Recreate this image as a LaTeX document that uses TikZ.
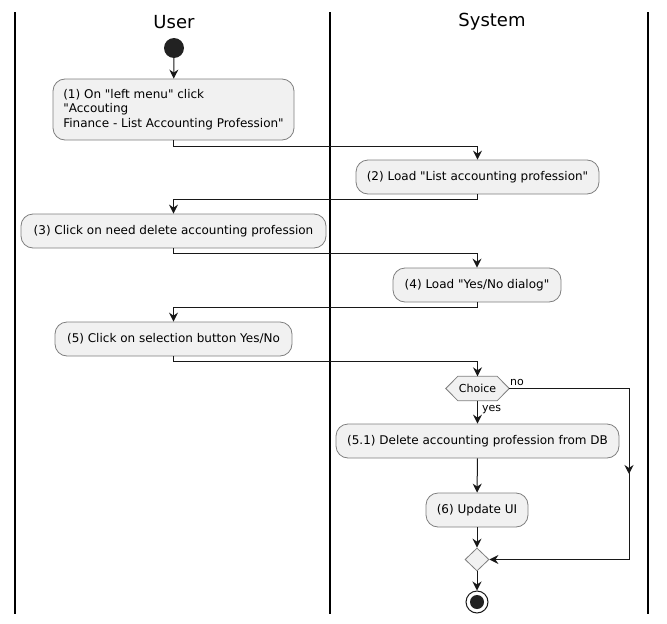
\documentclass[tikz,border=0pt]{standalone}
\usepackage{fontspec}
\setmainfont{DejaVu Sans}[Ligatures=TeXOff]
\usetikzlibrary{arrows.meta,shapes.geometric}
\definecolor{boxfill}{HTML}{F1F1F1}
\definecolor{boxline}{HTML}{7F7F7F}
\definecolor{ink}{HTML}{181818}
\definecolor{dot}{HTML}{222222}
\tikzset{
  act/.style={draw=boxline, fill=boxfill, rounded corners=12pt, line width=0.8pt,
    inner xsep=10pt, inner ysep=0pt, minimum height=34pt, font=\fontsize{12}{14.5}\selectfont, text=black},
  arr/.style={draw=ink, line width=1pt, -{Stealth[length=9pt,width=9pt,inset=3pt]}},
  lane/.style={draw=black, line width=1.5pt},
  title/.style={font=\fontsize{18}{20}\selectfont},
  lbl/.style={font=\fontsize{11}{12}\selectfont, inner sep=0pt},
}
\begin{document}
\begin{tikzpicture}[x=1pt,y=-1pt]
\useasboundingbox (0,0) rectangle (667,624);
% lanes
\draw[lane] (15,12) -- (15,614);
\draw[lane] (330,12) -- (330,614);
\draw[lane] (648,12) -- (648,614);
\node[title] (tuser) at (174,22) {User};
\node[title] (tsys) at (492,22) {System};
% start
\node[circle, fill=dot, minimum size=20pt, inner sep=0pt] (start) at (174,48) {};
\node[act, minimum width=241pt, minimum height=61pt, align=left] (b1) at (173.5,109.5)
  {(1) On "left menu" click\\"Accouting\\Finance - List Accounting Profession"};
\node[act, minimum width=243pt] (b2) at (477.5,177) {(2) Load "List accounting profession"};
\node[act, minimum width=305pt] (b3) at (173.5,231) {(3) Click on need delete accounting profession};
\node[act, minimum width=168pt] (b4) at (477,285) {(4) Load "Yes/No dialog"};
\node[act, minimum width=237pt] (b5) at (173.5,339) {(5) Click on selection button Yes/No};
\node[font=\fontsize{11}{12}\selectfont, minimum width=63pt, minimum height=24pt, inner sep=0pt] (choice) at (477.5,388.5) {Choice};
\draw[draw=boxline, fill=boxfill, line width=0.8pt]
  (choice.west) -- ([xshift=12pt]choice.north west) -- ([xshift=-12pt]choice.north east)
  -- (choice.east) -- ([xshift=-12pt]choice.south east) -- ([xshift=12pt]choice.south west) -- cycle;
\node[font=\fontsize{11}{12}\selectfont, inner sep=0pt] at (choice) {Choice};
\node[act, minimum width=283pt] (b51) at (477.5,441) {(5.1) Delete accounting profession from DB};
\node[act, minimum width=102pt] (b6) at (477,510) {(6) Update UI};
\node[diamond, draw=boxline, fill=boxfill, line width=0.8pt, minimum width=24pt, minimum height=23pt, inner sep=0pt] (merge) at (477,559.5) {};
\node[circle, draw=ink, line width=1pt, fill=white, minimum size=22pt, inner sep=0pt] (end) at (477,602) {};
\node[circle, fill=dot, minimum size=14pt, inner sep=0pt] at (end) {};
% connectors
\draw[arr] (start) -- (b1);
\draw[arr] (b1.south) -- ++(0,6) -| (b2.north);
\draw[arr] (b2.south) -- ++(0,5) -| (b3.north);
\draw[arr] (b3.south) -- ++(0,5) -| (b4.north);
\draw[arr] (b4.south) -- ++(0,5) -| (b5.north);
\draw[arr] (b5.south) -- ++(0,5) -| (choice.north);
\draw[arr] (choice.south) -- (b51.north);
\node[lbl, anchor=base west] (yeslbl) at (482,411) {yes};
\draw[arr] (b51) -- (b6);
\draw[arr] (b6) -- (merge);
\draw[arr] (merge) -- (end);
\coordinate (nocorner) at (629,388.5);
\coordinate (nomid) at (629,474);
\draw[ink, line width=1pt] (choice.east) -- (nocorner) -- (nomid);
\draw[arr] (nocorner) -- (nomid);
\draw[arr] (nomid) |- (merge.east);
\node[lbl, anchor=base west] (nolbl) at (510,385) {no};
\end{tikzpicture}
\end{document}
